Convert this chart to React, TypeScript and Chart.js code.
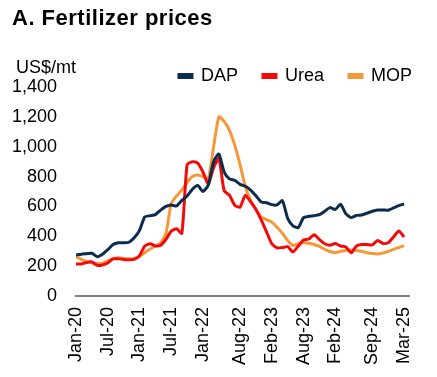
import React, { useEffect, useRef } from "react";
import { Chart, registerables } from "chart.js";

Chart.register(...registerables);

// Monthly observations, Jan-20 .. Mar-25 (63 months)
const dap = [
  275, 280, 283, 286, 263, 280, 310, 345, 357, 357, 360, 390, 440, 530, 538, 545,
  575, 600, 610, 603, 640, 670, 715, 740, 700, 744, 900, 951, 830, 785, 775, 748,
  735, 710, 672, 630, 625, 612, 610, 639, 520, 470, 458, 525, 534, 538, 545, 568,
  592, 580, 614, 550, 525, 540, 543, 555, 568, 576, 576, 575, 590, 605, 616,
];
const urea = [
  214, 214, 225, 228, 205, 208, 222, 248, 250, 245, 243, 245, 270, 335, 350, 335,
  340, 380, 435, 450, 420, 880, 900, 890, 830, 750, 860, 920, 705, 675, 608, 595,
  675, 630, 580, 510, 430, 350, 322, 325, 330, 295, 335, 375, 382, 410, 378, 350,
  340, 352, 335, 328, 290, 335, 345, 345, 342, 372, 352, 357, 395, 435, 395,
];
const mop = [
  263, 245, 232, 222, 218, 220, 235, 250, 256, 252, 250, 252, 265, 290, 315, 335,
  355, 420, 620, 670, 710, 760, 800, 811, 800, 785, 1000, 1200, 1170, 1110, 1010, 880,
  732, 640, 580, 528, 512, 495, 460, 420, 372, 338, 350, 356, 353, 345, 332, 312,
  298, 290, 300, 305, 308, 305, 300, 290, 285, 281, 288, 298, 312, 325, 337,
];

const tickMonths = [0, 6, 12, 18, 24, 31, 37, 43, 49, 56, 62];
const tickLabels = [
  "Jan-20", "Jul-20", "Jan-21", "Jul-21", "Jan-22", "Aug-22",
  "Feb-23", "Aug-23", "Feb-24", "Sep-24", "Mar-25",
];
const yTicks = [0, 200, 400, 600, 800, 1000, 1200, 1400];

const seriesNames = ["DAP", "Urea", "MOP"];
const seriesColors = ["#0B2C4F", "#F20A0A", "#F5983A"];

const FONT = "'Liberation Sans', Arial, sans-serif";

export default function App() {
  const ref = useRef<HTMLCanvasElement | null>(null);

  useEffect(() => {
    if (!ref.current) return;
    const all = [dap, urea, mop];
    const legendFix = {
      id: "legendFix",
      beforeInit(chart: any) {
        const lg = chart.legend;
        if (!lg) return;
        const orig = lg.fit;
        lg.fit = function () {
          orig.call(this);
          this.height = 45;
        };
      },
    };
    const chart = new Chart(ref.current, {
      type: "line",
      data: {
        datasets: all.map((vals, k) => ({
          label: seriesNames[k],
          data: vals.map((v, i) => ({ x: i, y: v })),
          borderColor: seriesColors[k],
          backgroundColor: seriesColors[k],
          borderWidth: 3,
          pointRadius: 0,
          tension: 0.2,
          fill: false,
        })),
      },
      options: {
        animation: false,
        responsive: false,
        maintainAspectRatio: false,
        layout: { padding: { top: 42, left: 12, right: 0, bottom: 12 } },
        plugins: {
          legend: {
            position: "top",
            align: "end",
            labels: {
              boxWidth: 13,
              boxHeight: 3,
              padding: 25,
              color: "#000",
              font: { family: FONT, size: 18 },
            },
          },
          title: { display: false },
          tooltip: { enabled: false },
        },
        scales: {
          x: {
            type: "linear",
            min: 0,
            max: 63,
            afterBuildTicks: (axis: any) => {
              axis.ticks = tickMonths.map((v) => ({ value: v }));
            },
            afterFit: (s: any) => {
              s.height = 69;
            },
            ticks: {
              autoSkip: false,
              maxRotation: 90,
              minRotation: 90,
              padding: 11,
              color: "#000",
              font: { family: FONT, size: 18 },
              callback: (value: any) => {
                const idx = tickMonths.indexOf(Number(value));
                return idx >= 0 ? tickLabels[idx] : "";
              },
            },
            grid: { display: true, color: "transparent", drawTicks: false, drawOnChartArea: false },
            border: { display: true, color: "#808080", width: 2 },
          },
          y: {
            min: 0,
            max: 1400,
            afterBuildTicks: (axis: any) => {
              axis.ticks = yTicks.map((v) => ({ value: v }));
            },
            afterFit: (s: any) => {
              s.width = 64;
            },
            ticks: {
              padding: 19,
              color: "#000",
              font: { family: FONT, size: 18 },
              callback: (value: any) => Number(value).toLocaleString("en-US"),
            },
            grid: { display: false, drawTicks: false },
            border: { display: false },
          },
          y2: {
            position: "right",
            display: true,
            min: 0,
            max: 1400,
            afterFit: (s: any) => {
              s.width = 19;
            },
            ticks: { display: false },
            grid: { display: false, drawTicks: false },
            border: { display: false },
          },
        },
      },
      plugins: [legendFix],
    });
    return () => chart.destroy();
  }, []);

  return (
    <div style={{ position: "absolute", left: 0, top: 0, width: 437, height: 377, background: "#fff" }}>
      <canvas ref={ref} width={437} height={377} style={{ position: "absolute", left: 0, top: 0 }} />
      <div
        style={{
          position: "absolute",
          left: 12,
          top: 5,
          fontFamily: FONT,
          fontWeight: "bold",
          fontSize: 22,
          letterSpacing: "0.5px",
          color: "#000",
          whiteSpace: "nowrap",
          lineHeight: "26px",
        }}
      >
        A. Fertilizer prices
      </div>
      <div
        style={{
          position: "absolute",
          left: 16,
          top: 56,
          fontFamily: FONT,
          fontSize: 18,
          color: "#000",
          whiteSpace: "nowrap",
          lineHeight: "22px",
        }}
      >
        US$/mt
      </div>
    </div>
  );
}
